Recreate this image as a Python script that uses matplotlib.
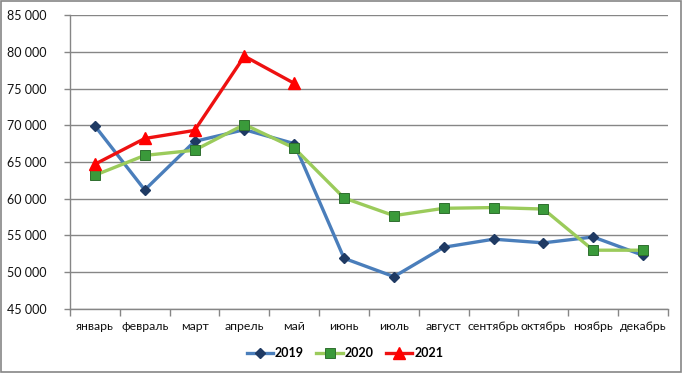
import matplotlib
matplotlib.use("Agg")
import matplotlib.pyplot as plt
import numpy as np

months = ["январь", "февраль", "март", "апрель", "май", "июнь", "июль",
          "август", "сентябрь", "октябрь", "ноябрь", "декабрь"]
s2019 = [69900, 61200, 67800, 69400, 67500, 51900, 49400, 53400, 54500, 54000, 54800, 52300]
s2020 = [63200, 65900, 66600, 70100, 66900, 60100, 57700, 58700, 58800, 58600, 53000, 53000]
s2021 = [64700, 68200, 69300, 79400, 75700]
yticks = list(range(45000, 85001, 5000))

plt.rcParams['font.family'] = ['Lato', 'DejaVu Sans']

fig = plt.figure(figsize=(6.83, 3.73), dpi=100)
ax = fig.add_axes([70/683, 64/373, 598/683, 294/373])

x = np.arange(len(months))
ax.plot(x, s2019, color='#4a7ebb', lw=2.4, marker='D', ms=5.5,
        mfc='#1f3a63', mec='#1f3a63', label='2019', zorder=3)
ax.plot(x, s2020, color='#9bcb5b', lw=2.4, marker='s', ms=6.5,
        mfc='#3a9a3a', mec='#2f6f2f', mew=0.7, label='2020', zorder=4)
ax.plot(x[:len(s2021)], s2021, color='#ee1111', lw=2.4, marker='^', ms=9,
        mfc='#ff0000', mec='#ff0000', label='2021', zorder=5)

ax.set_xlim(-0.5, len(months) - 0.5)
ax.set_ylim(45000, 85000)
ax.set_yticks(yticks)
ax.set_yticklabels([f"{v:,}".replace(",", " ") for v in yticks], fontsize=9, color='#111111')
ax.set_xticks(x)
ax.set_xticklabels(months, fontsize=8.8, color='#111111')
ax.set_xticks(np.arange(-0.5, len(months)), minor=True)
ax.tick_params(axis='x', which='major', length=0, pad=9)
ax.tick_params(axis='x', which='minor', length=5, color='#868686', width=1)
ax.tick_params(axis='y', length=4, color='#868686', width=1, pad=13)

ax.grid(axis='y', color='#868686', lw=1)
ax.set_axisbelow(True)
for s in ['top', 'right']:
    ax.spines[s].set_visible(False)
for s in ['left', 'bottom']:
    ax.spines[s].set_color('#868686')
    ax.spines[s].set_linewidth(1)

leg = fig.legend(loc='center', bbox_to_anchor=(345/683, 1 - 353/373), ncol=3,
                 frameon=False, fontsize=9, handlelength=2.1, columnspacing=1.0,
                 handletextpad=0.15)
for t in leg.get_texts():
    t.set_fontweight('bold')

fig.patches.append(plt.Rectangle((0.002, 0.003), 0.995, 0.993, transform=fig.transFigure,
                                 fill=False, ec='#868686', lw=1.2))

fig.savefig("out.png", dpi=100)
